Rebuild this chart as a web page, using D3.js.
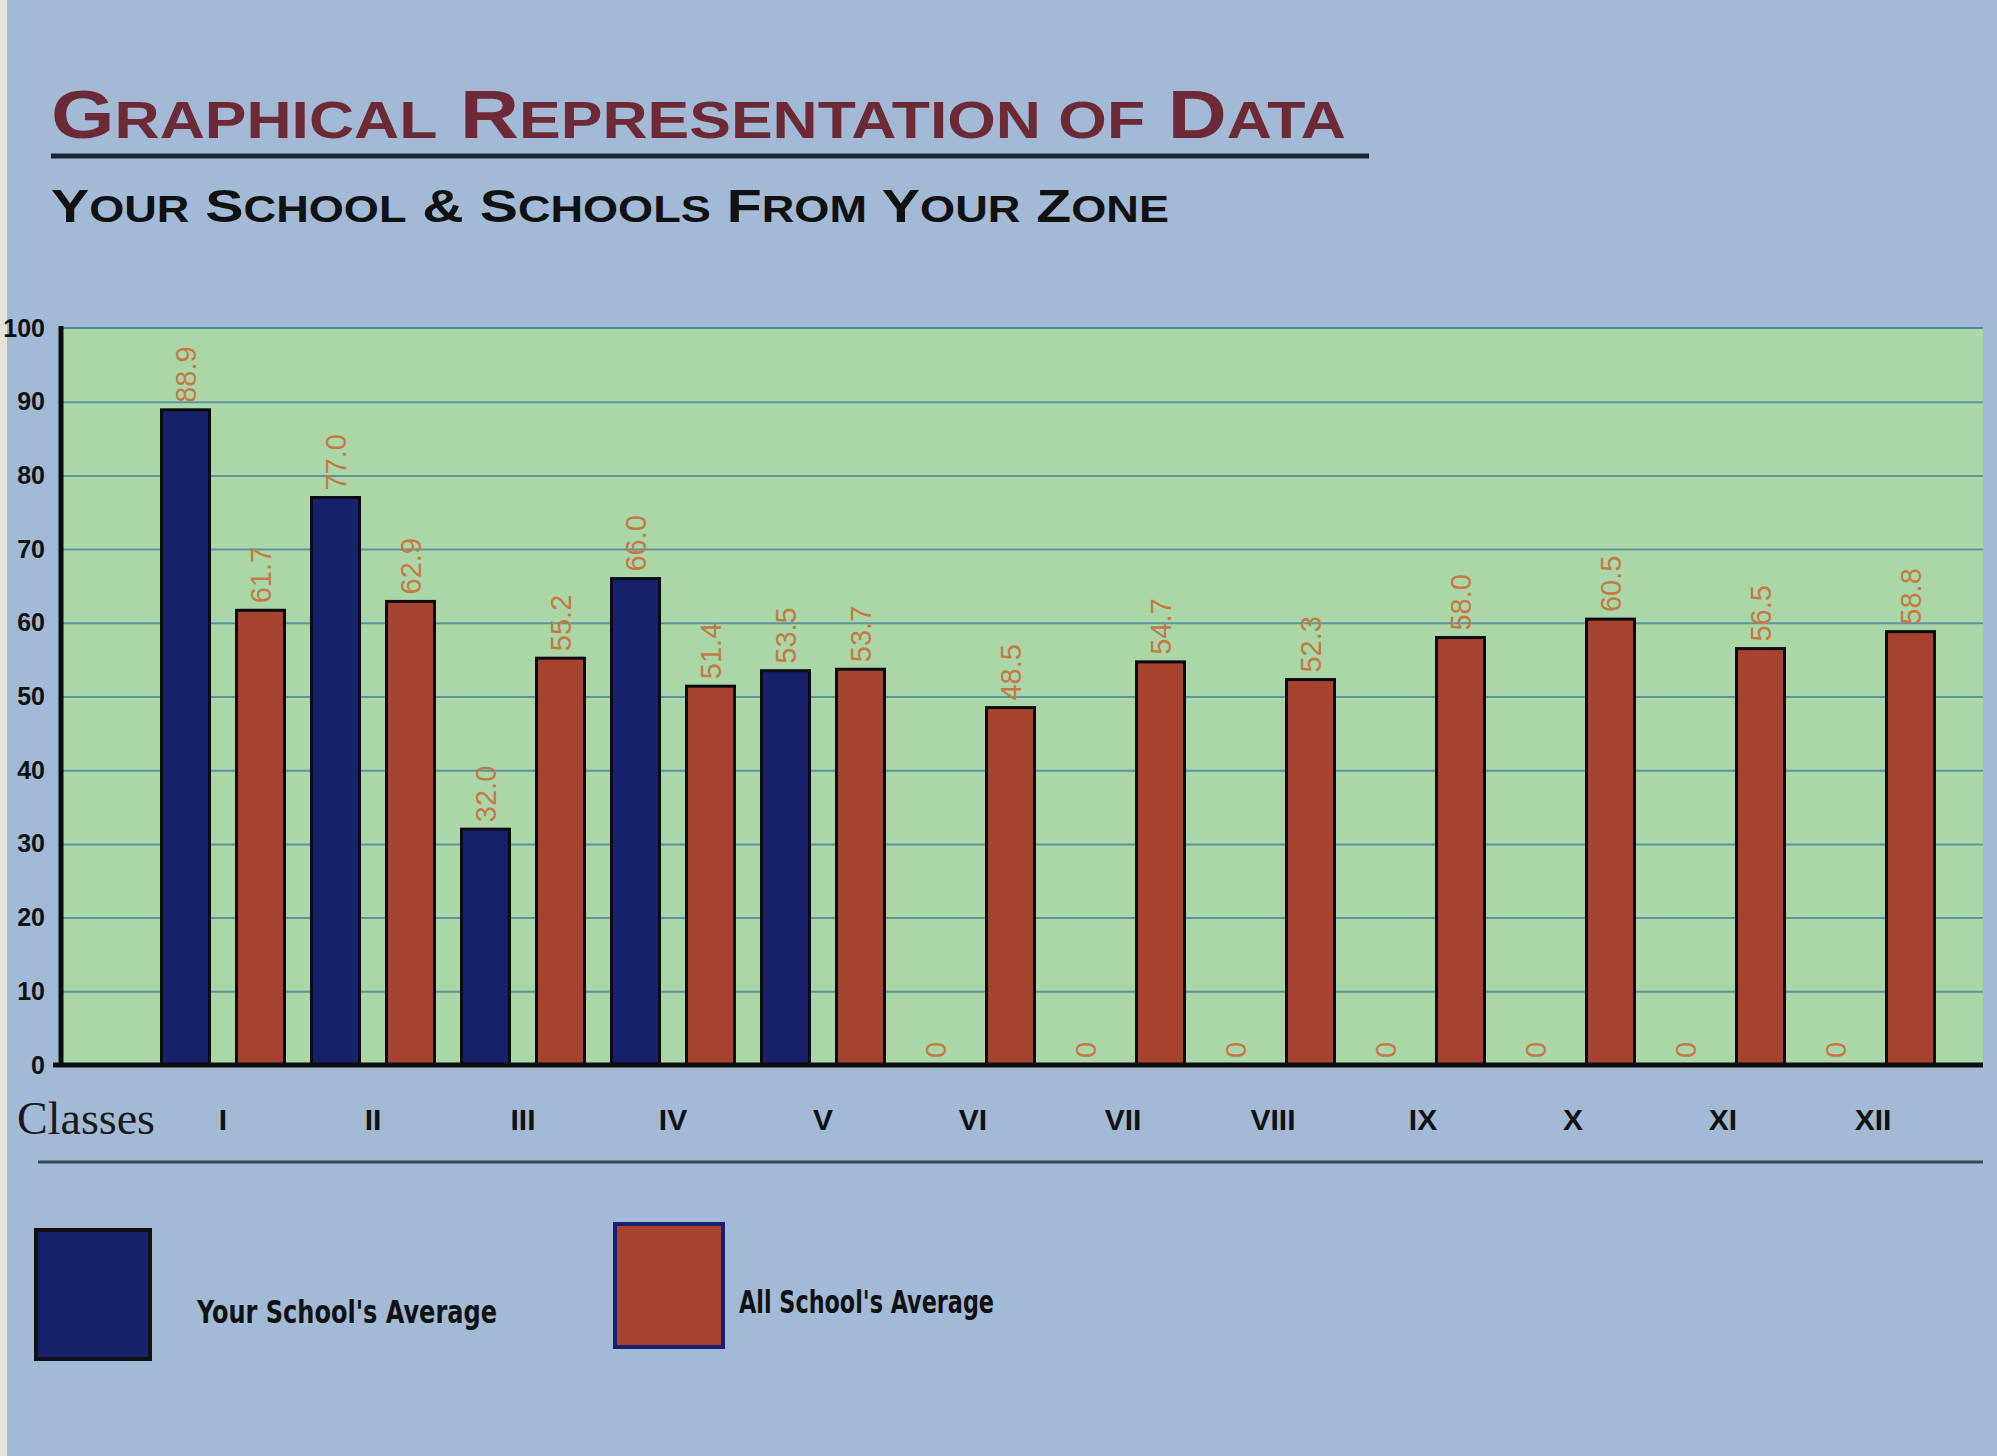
<!DOCTYPE html>
<html>
<head>
<meta charset="utf-8">
<script src="https://cdn.jsdelivr.net/npm/d3@7/dist/d3.min.js"></script>
<style>
  html, body { margin: 0; padding: 0; background: #a4bbd5; }
  svg { display: block; }
</style>
</head>
<body>
<svg id="chart" width="1997" height="1456"></svg>
<script>
const classes = ["I","II","III","IV","V","VI","VII","VIII","IX","X","XI","XII"];
const yourSchool = [88.9, 77.0, 32.0, 66.0, 53.5, 0, 0, 0, 0, 0, 0, 0];
const allSchools = [61.7, 62.9, 55.2, 51.4, 53.7, 48.5, 54.7, 52.3, 58.0, 60.5, 56.5, 58.8];
const seriesNames = ["Your School's Average", "All School's Average"];
const yTicks = [0,10,20,30,40,50,60,70,80,90,100];

const colors = { "Your School's Average": "#17216b", "All School's Average": "#a5432f" };

const svg = d3.select("#chart");
const W = 1997, H = 1456;

// background paper
svg.append("rect").attr("width", W).attr("height", H).attr("fill", "#a2bad6");
svg.append("rect").attr("x", 0).attr("y", 0).attr("width", 7).attr("height", H).attr("fill", "#e6e3dc");

const plot = { left: 61, right: 1983, top: 328, bottom: 1065 };

const y = d3.scaleLinear().domain([0, 100]).range([plot.bottom, plot.top]);
const x = d3.scaleBand().domain(classes).range([148, 1948]).padding(0);
const x1 = d3.scaleBand().domain(seriesNames).range([0, x.bandwidth()]).paddingInner(0.36).paddingOuter(0.18);

// plot area
svg.append("rect")
  .attr("x", plot.left).attr("y", plot.top)
  .attr("width", plot.right - plot.left).attr("height", plot.bottom - plot.top)
  .attr("fill", "#aad6a8");

// gridlines
svg.append("g")
  .attr("transform", `translate(${plot.left},0)`)
  .call(d3.axisLeft(y).tickValues(yTicks.filter(t => t > 0 && t < 100)).tickSize(-(plot.right - plot.left)).tickFormat(""))
  .call(g => g.select(".domain").remove())
  .call(g => g.selectAll("line").attr("stroke", "#4f8a9e").attr("stroke-width", 2).attr("opacity", 0.85));

svg.append("line").attr("x1", plot.left).attr("x2", plot.right).attr("y1", plot.top).attr("y2", plot.top)
  .attr("stroke", "#4f8a9e").attr("stroke-width", 2);

// y tick labels
svg.append("g")
  .attr("transform", `translate(${plot.left},0)`)
  .call(d3.axisLeft(y).tickValues(yTicks).tickSize(0).tickPadding(16).tickFormat(d3.format("d")))
  .call(g => g.select(".domain").remove())
  .call(g => g.selectAll("text")
    .attr("font-family", "Liberation Sans, Arial, sans-serif")
    .attr("font-weight", "bold").attr("font-size", 25).attr("fill", "#111"));

// bars
const rows = classes.map((c, i) => ({ cls: c, vals: [
  { s: seriesNames[0], v: yourSchool[i] },
  { s: seriesNames[1], v: allSchools[i] }
]}));

const groups = svg.append("g").selectAll("g").data(rows).join("g")
  .attr("transform", d => `translate(${x(d.cls)},0)`);

groups.selectAll("rect").data(d => d.vals.filter(v => v.v > 0)).join("rect")
  .attr("x", d => x1(d.s))
  .attr("y", d => y(d.v))
  .attr("width", x1.bandwidth())
  .attr("height", d => y(0) - y(d.v))
  .attr("fill", d => colors[d.s])
  .attr("stroke", "#0b0b14").attr("stroke-width", 3);

// value labels
groups.selectAll("text.val").data(d => d.vals).join("text")
  .attr("class", "val")
  .attr("transform", d => `translate(${x1(d.s) + x1.bandwidth() / 2 + 10},${y(d.v) - 7}) rotate(-90)`)
  .attr("text-anchor", "start")
  .attr("font-family", "Liberation Sans, Arial, sans-serif")
  .attr("font-size", 29)
  .attr("fill", "#c57a45")
  .text(d => d.v === 0 ? "0" : d3.format(".1f")(d.v));

// axes lines
svg.append("line").attr("x1", plot.left).attr("x2", plot.left).attr("y1", plot.top - 2).attr("y2", plot.bottom + 2)
  .attr("stroke", "#0d0d0d").attr("stroke-width", 5);
svg.append("line").attr("x1", plot.left - 8).attr("x2", plot.right).attr("y1", plot.bottom).attr("y2", plot.bottom)
  .attr("stroke", "#0d0d0d").attr("stroke-width", 5);

// x axis labels
svg.append("g")
  .attr("transform", `translate(0,${plot.bottom})`)
  .call(d3.axisBottom(x).tickSize(0).tickPadding(44))
  .call(g => g.select(".domain").remove())
  .call(g => g.selectAll("text")
    .attr("font-family", "Liberation Sans, Arial, sans-serif")
    .attr("font-weight", "bold").attr("font-size", 30).attr("fill", "#111"));

svg.append("text").attr("x", 17).attr("y", 1134)
  .attr("font-family", "Liberation Serif, Times New Roman, serif")
  .attr("font-size", 46).attr("fill", "#1a1a1a").text("Classes");

// separator line
svg.append("line").attr("x1", 38).attr("x2", 1983).attr("y1", 1162).attr("y2", 1162)
  .attr("stroke", "#3a4450").attr("stroke-width", 3);

// small-caps helper: first letter of each word large, rest uppercase smaller
function smallCaps(sel, str, big, small) {
  const words = str.split(" ");
  words.forEach((w, i) => {
    const first = w[0], rest = w.slice(1);
    const capFirst = /[A-Z&]/.test(first);
    sel.append("tspan").attr("font-size", capFirst ? big : small).text((i > 0 ? " " : "") + first.toUpperCase());
    if (rest) sel.append("tspan").attr("font-size", small).text(rest.toUpperCase());
  });
}

// title
const t1 = svg.append("text").attr("x", 51).attr("y", 138)
  .attr("font-family", "Liberation Sans, Arial, sans-serif")
  .attr("font-weight", "bold")
  .attr("fill", "#6d2a36")
  .attr("textLength", 1295).attr("lengthAdjust", "spacingAndGlyphs");
smallCaps(t1, "Graphical Representation of Data", 68, 52);
svg.append("line").attr("x1", 51).attr("x2", 1369).attr("y1", 156).attr("y2", 156)
  .attr("stroke", "#1c2430").attr("stroke-width", 5);
const t2 = svg.append("text").attr("x", 51).attr("y", 222)
  .attr("font-family", "Liberation Sans, Arial, sans-serif")
  .attr("font-weight", "bold")
  .attr("fill", "#111")
  .attr("textLength", 1118).attr("lengthAdjust", "spacingAndGlyphs");
smallCaps(t2, "Your School & Schools From Your Zone", 47, 37);

// legend
const legend = [
  { name: seriesNames[0], rx: 36, ry: 1230, rw: 114, rh: 129, stroke: "#111", tx: 197, ty: 1323, tl: 300 },
  { name: seriesNames[1], rx: 615, ry: 1224, rw: 108, rh: 123, stroke: "#1a2070", tx: 739, ty: 1313, tl: 255 }
];
const lg = svg.append("g").selectAll("g").data(legend).join("g");
lg.append("rect")
  .attr("x", d => d.rx).attr("y", d => d.ry).attr("width", d => d.rw).attr("height", d => d.rh)
  .attr("fill", d => colors[d.name]).attr("stroke", d => d.stroke).attr("stroke-width", 4);
lg.append("text")
  .attr("x", d => d.tx).attr("y", d => d.ty)
  .attr("font-family", "DejaVu Sans Condensed, Liberation Sans Narrow, Arial, sans-serif")
  .attr("font-weight", "bold").attr("font-size", 32).attr("fill", "#111")
  .attr("textLength", d => d.tl).attr("lengthAdjust", "spacingAndGlyphs")
  .text(d => d.name);
</script>
</body>
</html>
